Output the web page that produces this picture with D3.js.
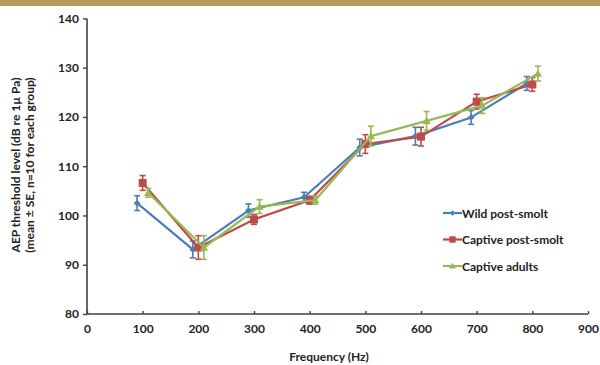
<!DOCTYPE html>
<html><head><meta charset="utf-8">
<script src="https://cdn.jsdelivr.net/npm/d3@7/dist/d3.min.js"></script>
<style>body{margin:0;background:#fff;}svg{display:block;}</style>
</head><body>
<script>
const seriesNames = ["Wild post-smolt", "Captive post-smolt", "Captive adults"];
const seriesColors = ["#4A7EBB", "#BE4B48", "#98B954"];
const seriesShapes = ["diamond", "square", "triangle"];
const wildFreq = [90, 190, 290, 390, 490, 590, 690, 790];
const wildMean = [102.5, 93.1, 101.0, 103.7, 113.8, 116.1, 119.9, 126.8];
const wildSE   = [1.5, 1.7, 1.35, 1.0, 1.7, 1.8, 1.4, 1.4];
const captivePostFreq = [100, 200, 300, 400, 500, 600, 700, 800];
const captivePostMean = [106.6, 93.5, 99.2, 103.1, 114.5, 116.0, 123.1, 126.6];
const captivePostSE   = [1.5, 2.4, 1.0, 0.8, 1.9, 1.9, 1.5, 1.4];
const captiveAdultFreq = [110, 210, 310, 410, 510, 610, 710, 810];
const captiveAdultMean = [104.6, 93.5, 101.8, 103.1, 116.1, 119.2, 122.3, 128.8];
const captiveAdultSE   = [0.9, 2.4, 1.4, 0.8, 2.0, 1.9, 1.6, 1.5];
const xTicks = [0, 100, 200, 300, 400, 500, 600, 700, 800, 900];
const yTicks = [80, 90, 100, 110, 120, 130, 140];

const series = [
  {freq: wildFreq, mean: wildMean, se: wildSE},
  {freq: captivePostFreq, mean: captivePostMean, se: captivePostSE},
  {freq: captiveAdultFreq, mean: captiveAdultMean, se: captiveAdultSE}
].map((s, i) => ({name: seriesNames[i], color: seriesColors[i], shape: seriesShapes[i],
  points: s.freq.map((f, j) => ({x: f, y: s.mean[j], e: s.se[j]}))}));

const W = 600, H = 365;
const svg = d3.select("body").append("svg").attr("width", W).attr("height", H);
const font = "Lato, 'Open Sans', sans-serif";

svg.append("rect").attr("x", 0).attr("y", 0).attr("width", W).attr("height", 6).attr("fill", "#BC9A5E");

const x = d3.scaleLinear().domain([0, 900]).range([87, 588]);
const y = d3.scaleLinear().domain([80, 140]).range([314, 18.4]);

const axisColor = "#404040";
const gy = svg.append("g").attr("transform", `translate(${x(0)},0)`)
  .call(d3.axisLeft(y).tickValues(yTicks).tickSize(4).tickPadding(4).tickFormat(d3.format("d")));
const gx = svg.append("g").attr("transform", `translate(0,${y(80)})`)
  .call(d3.axisBottom(x).tickValues(xTicks).tickSize(-3).tickPadding(10).tickFormat(d3.format("d")));
[gx, gy].forEach(g => {
  g.select(".domain").attr("stroke", axisColor).attr("stroke-width", 1.6);
  g.selectAll(".tick line").attr("stroke", axisColor).attr("stroke-width", 1.4);
  g.selectAll(".tick text").attr("fill", "#222").style("font-family", font)
    .style("font-size", "12px").style("font-weight", "bold");
});
gx.select(".domain").attr("d", `M${x(0)},0H${x(900)}`);
gy.select(".domain").attr("d", `M0,${y(140)}V${y(80)}`);

svg.append("text").attr("transform", `translate(20,165) rotate(-90)`).attr("text-anchor", "middle")
  .style("font-family", font).style("font-size", "12px").style("font-weight", "bold").attr("fill", "#222")
  .text("AEP threshold level (dB re 1µ Pa)");
svg.append("text").attr("transform", `translate(34,165) rotate(-90)`).attr("text-anchor", "middle")
  .style("font-family", font).style("font-size", "12px").style("font-weight", "bold").attr("fill", "#222")
  .text("(mean ± SE, n=10 for each group)");
svg.append("text").attr("x", 329).attr("y", 361).attr("text-anchor", "middle")
  .style("font-family", font).style("font-size", "12px").style("font-weight", "bold").attr("fill", "#222")
  .text("Frequency (Hz)");

function drawMarker(g, shape, color, cx, cy, scale) {
  scale = scale || 1;
  if (shape === "diamond") {
    const r = 3.4 * scale;
    g.append("path").attr("d", `M${cx},${cy - r}L${cx + r},${cy}L${cx},${cy + r}L${cx - r},${cy}Z`).attr("fill", color);
  } else if (shape === "square") {
    const r = 4 * scale;
    g.append("rect").attr("x", cx - r).attr("y", cy - r).attr("width", 2 * r).attr("height", 2 * r).attr("fill", color);
  } else {
    const r = 4.2 * scale;
    g.append("path").attr("d", `M${cx},${cy - r}L${cx + r},${cy + r * 0.75}L${cx - r},${cy + r * 0.75}Z`).attr("fill", color);
  }
}

const line = d3.line().x(d => x(d.x)).y(d => y(d.y));
series.forEach(s => {
  const g = svg.append("g");
  g.append("path").datum(s.points).attr("d", line).attr("fill", "none")
    .attr("stroke", s.color).attr("stroke-width", 2.2).attr("stroke-linejoin", "round");
  s.points.forEach(p => {
    const cx = x(p.x), y1 = y(p.y + p.e), y0 = y(p.y - p.e);
    g.append("line").attr("x1", cx).attr("x2", cx).attr("y1", y1).attr("y2", y0).attr("stroke", s.color).attr("stroke-width", 1.6);
    [y1, y0].forEach(yy => g.append("line").attr("x1", cx - 3).attr("x2", cx + 3).attr("y1", yy).attr("y2", yy).attr("stroke", s.color).attr("stroke-width", 1.6));
    drawMarker(g, s.shape, s.color, cx, y(p.y));
  });
});

const leg = svg.append("g");
series.forEach((s, i) => {
  const ly = 213 + i * 26.5;
  leg.append("line").attr("x1", 443).attr("x2", 462).attr("y1", ly).attr("y2", ly).attr("stroke", s.color).attr("stroke-width", 2.2);
  drawMarker(leg, s.shape, s.color, 452.5, ly, 0.8);
  leg.append("text").attr("x", 462).attr("y", ly + 4.5).style("font-family", font)
    .style("font-size", "12px").style("font-weight", "bold").attr("fill", "#222").text(s.name);
});
</script>
</body></html>
